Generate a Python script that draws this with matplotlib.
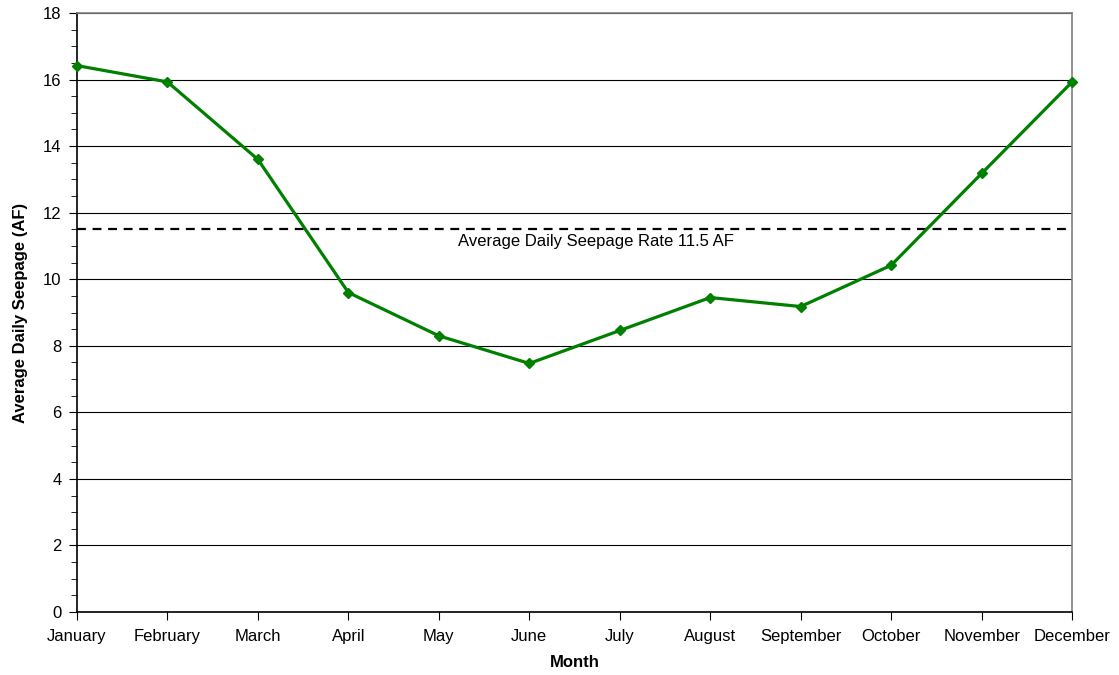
import matplotlib
matplotlib.use("Agg")
import matplotlib.pyplot as plt
from matplotlib.ticker import MultipleLocator

months = ["January", "February", "March", "April", "May", "June", "July",
          "August", "September", "October", "November", "December"]
seepage = [16.42, 15.93, 13.6, 9.6, 8.3, 7.47, 8.46, 9.45, 9.18, 10.42, 13.18, 15.93]
average_rate = 11.5
average_label = "Average Daily Seepage Rate 11.5 AF"

plt.rcParams["font.family"] = ["Liberation Sans", "DejaVu Sans"]

fig = plt.figure(figsize=(11.19, 6.75), dpi=100)
ax = fig.add_axes([0.0688, 0.0933, 0.8893, 0.8874])

x = list(range(len(months)))
ax.set_xlim(0, len(months) - 1)
ax.set_ylim(0, 18)

ax.yaxis.set_major_locator(MultipleLocator(2))
ax.yaxis.set_minor_locator(MultipleLocator(0.5))
ax.grid(axis="y", which="major", color="black", linewidth=0.8)
ax.set_axisbelow(True)

ax.axhline(average_rate, color="black", linestyle=(0, (4, 3)), linewidth=1.6, zorder=3)
ax.text(5.74, average_rate - 0.14, average_label, ha="center", va="top", fontsize=12)

ax.plot(x, seepage, color="#008000", linewidth=2.3, marker="D", markersize=5.5, zorder=4,
        clip_on=False)

ax.set_xticks(x)
ax.set_xticklabels(months)
ax.tick_params(axis="both", which="both", direction="out", labelsize=12, color="black")
ax.tick_params(axis="both", which="major", length=6)
ax.tick_params(axis="x", which="major", pad=6.5)
ax.tick_params(axis="y", which="major", pad=5)
ax.tick_params(axis="y", which="minor", length=4)

for side in ("top", "right"):
    ax.spines[side].set_color("#808080")
    ax.spines[side].set_linewidth(1.2)
for side in ("left", "bottom"):
    ax.spines[side].set_color("black")
    ax.spines[side].set_linewidth(1.2)

ax.set_xlabel("Month", fontsize=12, fontweight="bold", labelpad=8)
ax.set_ylabel("Average Daily Seepage (AF)", fontsize=12, fontweight="bold", labelpad=11)

fig.savefig("out.png", dpi=100, facecolor="white")
